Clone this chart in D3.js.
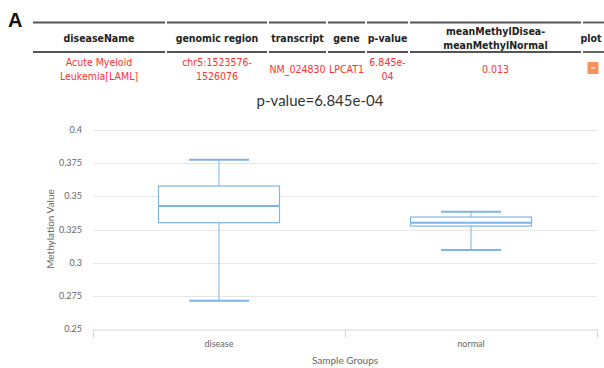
<!DOCTYPE html>
<html>
<head>
<meta charset="utf-8">
<script src="https://cdn.jsdelivr.net/npm/d3@7"></script>
<style>
  html, body { margin: 0; padding: 0; background: #fff; }
  svg { display: block; }
</style>
</head>
<body>
<div id="chart"></div>
<script>
// table contents
const headers = [["diseaseName"], ["genomic region"], ["transcript"], ["gene"], ["p-value"],
  ["meanMethylDisea-", "meanMethylNormal"], ["plot"]];
const rowCells = [["Acute Myeloid", "Leukemia[LAML]"], ["chr5:1523576-", "1526076"], ["NM_024830"],
  ["LPCAT1"], ["6.845e-", "04"], ["0.013"], null];

// box plot data
const groups = ["disease", "normal"];
const lowVals = [0.2713, 0.3096];
const q1Vals = [0.3301, 0.3276];
const medVals = [0.3427, 0.3301];
const q3Vals = [0.3578, 0.3344];
const highVals = [0.3776, 0.3384];
const yTicks = [0.25, 0.275, 0.3, 0.325, 0.35, 0.375, 0.4];
const yTickLabels = ["0.25", "0.275", "0.3", "0.325", "0.35", "0.375", "0.4"];
const title = "p-value=6.845e-04";

const W = 604, H = 368;
const svg = d3.select("#chart").append("svg").attr("width", W).attr("height", H);

// ---- panel label + table
svg.append("text").attr("x", 8).attr("y", 27)
  .style("font", "bold 20px 'Liberation Sans', Arial, sans-serif").attr("fill", "#111").text("A");

const colEdges = [33, 167, 269, 328, 367, 410, 583, 612];
const tfont = "10.5px 'DejaVu Sans Condensed', 'DejaVu Sans', sans-serif";
const tg = svg.append("g");
headers.forEach((h, i) => {
  const x0 = colEdges[i], x1 = colEdges[i + 1] - 2, cx = (x0 + x1) / 2;
  [22.5, 52].forEach(y => tg.append("line").attr("x1", x0).attr("x2", x1).attr("y1", y).attr("y2", y)
    .attr("stroke", "#555").attr("stroke-width", 1.8));
  const hy = h.length === 1 ? [42] : [35, 48.5];
  h.forEach((t, k) => tg.append("text").attr("x", i === 6 ? 591 : cx).attr("y", hy[k])
    .attr("text-anchor", "middle").style("font", "bold " + tfont).attr("fill", "#222").text(t));
  const r = rowCells[i];
  if (r) {
    const ry = r.length === 1 ? [72.5] : [66, 79.5];
    r.forEach((t, k) => tg.append("text").attr("x", cx).attr("y", ry[k])
      .attr("text-anchor", "middle").style("font", tfont).attr("fill", "#ff3030").text(t));
  }
});
// plot button
tg.append("rect").attr("x", 587.5).attr("y", 62).attr("width", 11).attr("height", 12).attr("rx", 1)
  .attr("fill", "#f5935c");
tg.append("line").attr("x1", 591).attr("x2", 595).attr("y1", 68).attr("y2", 68)
  .attr("stroke", "#fff").attr("stroke-width", 1);

// ---- box plot
const cfont = "Lato, 'Open Sans', sans-serif";
const x = d3.scaleBand().domain(groups).range([93, 597]);
const y = d3.scaleLinear().domain([0.25, 0.4]).range([329, 130]);

svg.append("text").attr("x", 320).attr("y", 106).attr("text-anchor", "middle")
  .style("font", "15px " + cfont).attr("fill", "#333").text(title);

const grid = svg.append("g");
yTicks.forEach((t, i) => {
  if (t > 0.25) grid.append("line").attr("x1", 93).attr("x2", 597)
    .attr("y1", Math.round(y(t)) + 0.5).attr("y2", Math.round(y(t)) + 0.5)
    .attr("stroke", "#e6e6e6").attr("stroke-width", 1.2);
  grid.append("text").attr("x", 82).attr("y", y(t) + 3).attr("text-anchor", "end")
    .style("font", "9px " + cfont).attr("fill", "#666").text(yTickLabels[i]);
});

// x axis
const xAxis = svg.append("g").attr("transform", "translate(0,329.5)")
  .call(d3.axisBottom(x).tickSize(0).tickPadding(11));
xAxis.select(".domain").attr("stroke", "#ccd6eb");
xAxis.selectAll("text").style("font", "9px " + cfont).attr("fill", "#666");
[93, 345, 597].forEach(px => xAxis.append("line").attr("x1", px + 0.5).attr("x2", px + 0.5)
  .attr("y1", 0).attr("y2", 8).attr("stroke", "#ccd6eb"));

svg.append("text").attr("x", 345).attr("y", 364).attr("text-anchor", "middle")
  .style("font", "10px " + cfont).attr("fill", "#666").text("Sample Groups");
svg.append("text").attr("transform", "translate(54,229) rotate(-90)").attr("text-anchor", "middle")
  .style("font", "10px " + cfont).attr("fill", "#666").text("Methylation Value");

const boxW = 121, capW = 60, blue = "#7cb5ec";
const bx = svg.append("g");
groups.forEach((g, i) => {
  const cx = x(g) + x.bandwidth() / 2;
  // stems
  bx.append("line").attr("x1", cx).attr("x2", cx).attr("y1", y(highVals[i])).attr("y2", y(q3Vals[i]))
    .attr("stroke", blue).attr("stroke-width", 1);
  bx.append("line").attr("x1", cx).attr("x2", cx).attr("y1", y(q1Vals[i])).attr("y2", y(lowVals[i]))
    .attr("stroke", blue).attr("stroke-width", 1);
  // box
  bx.append("rect").attr("x", cx - boxW / 2).attr("width", boxW)
    .attr("y", y(q3Vals[i])).attr("height", y(q1Vals[i]) - y(q3Vals[i]))
    .attr("fill", "#fff").attr("stroke", blue).attr("stroke-width", 1.2);
  // median
  bx.append("line").attr("x1", cx - boxW / 2).attr("x2", cx + boxW / 2)
    .attr("y1", y(medVals[i])).attr("y2", y(medVals[i])).attr("stroke", blue).attr("stroke-width", 2);
  // caps
  [highVals[i], lowVals[i]].forEach(v => bx.append("line").attr("x1", cx - capW / 2).attr("x2", cx + capW / 2)
    .attr("y1", y(v)).attr("y2", y(v)).attr("stroke", blue).attr("stroke-width", 2));
});
</script>
</body>
</html>
